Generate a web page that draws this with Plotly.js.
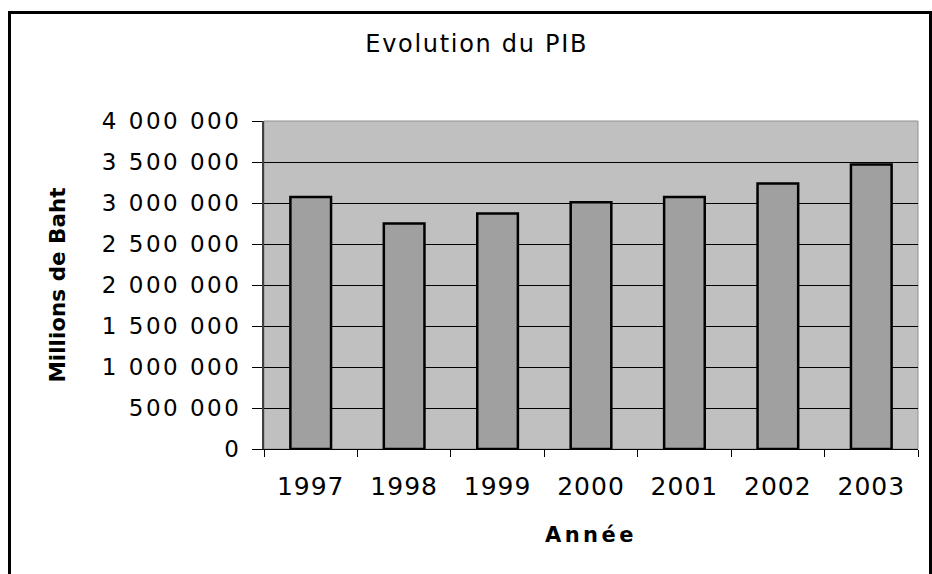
<!DOCTYPE html>
<html><head><meta charset="utf-8">
<script src="https://cdn.plot.ly/plotly-3.0.1.min.js"></script>
<style>
html,body{margin:0;padding:0;background:#fff;}
#wrap{position:relative;width:932px;height:574px;overflow:hidden;}
#chart{width:932px;height:574px;}
#frame{position:absolute;left:8px;top:11px;width:918px;height:600px;border:3px solid #000;pointer-events:none;}
#chart .ytick text{letter-spacing:2.5px;}
#chart .xtick text{letter-spacing:1px;}
#chart .gtitle{letter-spacing:1.7px;}
#chart .xtitle{letter-spacing:3.5px;}
</style></head>
<body>
<div id="wrap"><div id="chart"></div><div id="frame"></div></div>
<script>
const years = ['1997','1998','1999','2000','2001','2002','2003'];
const pib = [3072615, 2749684, 2871980, 3008401, 3073601, 3237042, 3468166];
const yTicks = [0, 500000, 1000000, 1500000, 2000000, 2500000, 3000000, 3500000, 4000000];

const font = 'DejaVu Sans, sans-serif';
Plotly.newPlot('chart', [{
  type: 'bar', x: years, y: pib,
  marker: {color: '#A0A0A0', line: {color: '#000', width: 2.5}},
  width: 0.435, hoverinfo: 'x+y'
}], {
  width: 932, height: 574,
  margin: {l: 264, r: 14, t: 121, b: 125},
  paper_bgcolor: 'rgba(0,0,0,0)', plot_bgcolor: '#C0C0C0',
  separators: ', ',
  showlegend: false,
  title: {text: 'Evolution du PIB', font: {family: font, size: 24, color: '#000'},
          x: 476.7/932, xref: 'container', xanchor: 'center', y: 1 - 44/574, yref: 'container', yanchor: 'middle'},
  xaxis: {type: 'category', tickson: 'boundaries', ticks: 'outside', ticklen: 7, tickcolor: '#000',
          showline: true, linecolor: '#000', linewidth: 1, showgrid: false, zeroline: false,
          tickfont: {family: font, size: 25, color: '#000'}, ticklabelstandoff: 15,
          title: {text: '<b>Année</b>', font: {family: font, size: 21, color: '#000'}, standoff: 27}},
  yaxis: {range: [0, 4000000], tickvals: yTicks, tickformat: ',d', ticks: 'outside', ticklen: 10,
          tickcolor: '#000', showline: true, linecolor: '#404040', linewidth: 2, showgrid: true,
          gridcolor: '#000', gridwidth: 1, zeroline: false,
          tickfont: {family: font, size: 23, color: '#000'}, ticklabelstandoff: 6,
          title: {text: '<b>Millions de Baht</b>', font: {family: font, size: 21.5, color: '#000'}, standoff: 53}},
  shapes: [{type: 'rect', xref: 'paper', yref: 'paper', x0: 0, x1: 1, y0: 0, y1: 1,
            line: {color: '#909090', width: 1}, layer: 'below'}]
}, {staticPlot: true});
</script>
</body></html>
